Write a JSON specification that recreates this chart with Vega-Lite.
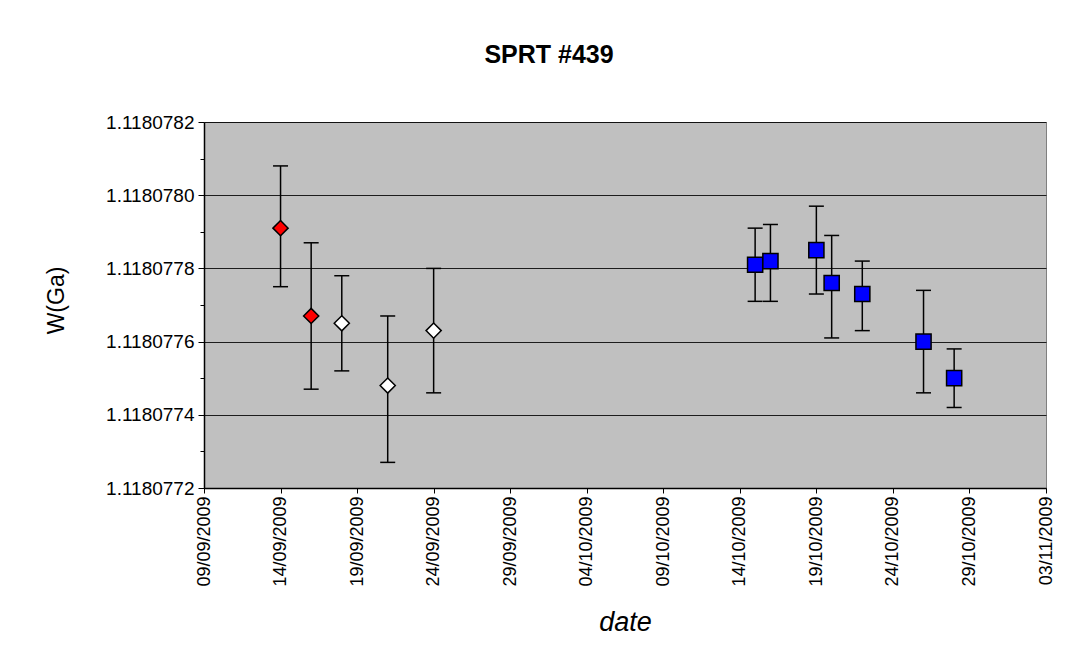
{
  "$schema": "https://vega.github.io/schema/vega-lite/v6.json",
  "width": 842,
  "height": 366,
  "autosize": {"type": "none"},
  "padding": {"left": 204, "top": 122, "right": 25, "bottom": 169},
  "background": "white",
  "config": {
    "font": "Liberation Sans",
    "view": {"fill": "#C0C0C0", "stroke": "#808080", "strokeWidth": 1}
  },
  "title": {
    "text": "SPRT #439",
    "fontSize": 25,
    "fontWeight": "bold",
    "font": "Liberation Sans",
    "color": "black",
    "dx": -76,
    "offset": 45
  },
  "data": {
    "values": [
      {"date": "2009-09-14", "w": 1.11807791, "lo": 1.11807775, "hi": 1.11807808, "set": "A"},
      {"date": "2009-09-16", "w": 1.11807767, "lo": 1.11807747, "hi": 1.11807787, "set": "A"},
      {"date": "2009-09-18", "w": 1.11807765, "lo": 1.11807752, "hi": 1.11807778, "set": "B"},
      {"date": "2009-09-21", "w": 1.11807748, "lo": 1.11807727, "hi": 1.11807767, "set": "B"},
      {"date": "2009-09-24", "w": 1.11807763, "lo": 1.11807746, "hi": 1.1180778, "set": "B"},
      {"date": "2009-10-15", "w": 1.11807781, "lo": 1.11807771, "hi": 1.11807791, "set": "C"},
      {"date": "2009-10-16", "w": 1.11807782, "lo": 1.11807771, "hi": 1.11807792, "set": "C"},
      {"date": "2009-10-19", "w": 1.11807785, "lo": 1.11807773, "hi": 1.11807797, "set": "C"},
      {"date": "2009-10-20", "w": 1.11807776, "lo": 1.11807761, "hi": 1.11807789, "set": "C"},
      {"date": "2009-10-22", "w": 1.11807773, "lo": 1.11807763, "hi": 1.11807782, "set": "C"},
      {"date": "2009-10-26", "w": 1.1180776, "lo": 1.11807746, "hi": 1.11807774, "set": "C"},
      {"date": "2009-10-28", "w": 1.1180775, "lo": 1.11807742, "hi": 1.11807758, "set": "C"}
    ]
  },
  "encoding": {
    "x": {
      "field": "date",
      "type": "temporal",
      "scale": {
        "type": "utc",
        "domain": [
          {"year": 2009, "month": 9, "date": 9, "utc": true},
          {"year": 2009, "month": 11, "date": 3, "utc": true}
        ],
        "nice": false
      },
      "axis": {
        "title": "date",
        "titleFontSize": 27,
        "titleFontStyle": "italic",
        "titleFontWeight": "normal",
        "titleColor": "black",
        "titleFont": "Liberation Sans",
        "titleY": 142,
        "titleBaseline": "alphabetic",
        "values": [
          {"year": 2009, "month": 9, "date": 9, "utc": true},
          {"year": 2009, "month": 9, "date": 14, "utc": true},
          {"year": 2009, "month": 9, "date": 19, "utc": true},
          {"year": 2009, "month": 9, "date": 24, "utc": true},
          {"year": 2009, "month": 9, "date": 29, "utc": true},
          {"year": 2009, "month": 10, "date": 4, "utc": true},
          {"year": 2009, "month": 10, "date": 9, "utc": true},
          {"year": 2009, "month": 10, "date": 14, "utc": true},
          {"year": 2009, "month": 10, "date": 19, "utc": true},
          {"year": 2009, "month": 10, "date": 24, "utc": true},
          {"year": 2009, "month": 10, "date": 29, "utc": true},
          {"year": 2009, "month": 11, "date": 3, "utc": true}
        ],
        "format": "%d/%m/%Y",
        "labelAngle": 270,
        "labelFontSize": 18,
        "labelColor": "black",
        "labelPadding": 3,
        "labelOverlap": false,
        "labelFlush": false,
        "tickSize": 5,
        "tickColor": "black",
        "domainColor": "black",
        "domainWidth": 1.5,
        "grid": false
      }
    }
  },
  "resolve": {"axis": {"y": "independent"}},
  "layer": [
    {
      "mark": {"type": "rule", "color": "black", "strokeWidth": 1.5},
      "encoding": {
        "y": {
          "field": "lo",
          "type": "quantitative",
          "scale": {"domain": [1.1180772, 1.1180782], "zero": false, "nice": false},
          "axis": {
            "orient": "left",
            "title": "W(Ga)",
            "titleFontSize": 23,
            "titleFontWeight": "normal",
            "titleColor": "black",
            "titleX": -148,
            "titleY": 178,
            "titleBaseline": "middle",
            "values": [1.1180772, 1.1180774, 1.1180776, 1.1180778, 1.118078, 1.1180782],
            "format": ".7f",
            "labelFontSize": 19,
            "labelColor": "black",
            "labelPadding": 4,
            "labelFlush": false,
            "labelOverlap": false,
            "tickSize": 6,
            "tickColor": "black",
            "domainColor": "black",
            "domainWidth": 1.5,
            "grid": true,
            "gridColor": "black",
            "gridWidth": 1,
            "gridOpacity": 0.85
          }
        },
        "y2": {"field": "hi"}
      }
    },
    {
      "mark": {"type": "tick", "orient": "horizontal", "size": 15, "thickness": 1.5, "color": "black", "opacity": 1},
      "encoding": {
        "y": {
          "field": "lo",
          "type": "quantitative",
          "axis": {
            "orient": "left",
            "title": null,
            "values": [1.1180773, 1.1180775, 1.1180777, 1.1180779, 1.1180781],
            "labels": false,
            "domain": false,
            "grid": false,
            "tickSize": 4,
            "tickColor": "black"
          }
        }
      }
    },
    {
      "mark": {"type": "tick", "orient": "horizontal", "size": 15, "thickness": 1.5, "color": "black", "opacity": 1},
      "encoding": {
        "y": {"field": "hi", "type": "quantitative", "axis": null}
      }
    },
    {
      "mark": {"type": "point", "filled": true, "stroke": "black", "strokeWidth": 1.5, "opacity": 1},
      "encoding": {
        "y": {"field": "w", "type": "quantitative", "axis": null},
        "fill": {
          "field": "set",
          "type": "nominal",
          "scale": {"domain": ["A", "B", "C"], "range": ["#FF0000", "#FFFFFF", "#0000FF"]},
          "legend": null
        },
        "shape": {
          "field": "set",
          "type": "nominal",
          "scale": {"domain": ["A", "B", "C"], "range": ["diamond", "diamond", "square"]},
          "legend": null
        },
        "size": {
          "field": "set",
          "type": "ordinal",
          "scale": {"domain": ["A", "B", "C"], "range": [230, 230, 196]},
          "legend": null
        }
      }
    }
  ]
}
